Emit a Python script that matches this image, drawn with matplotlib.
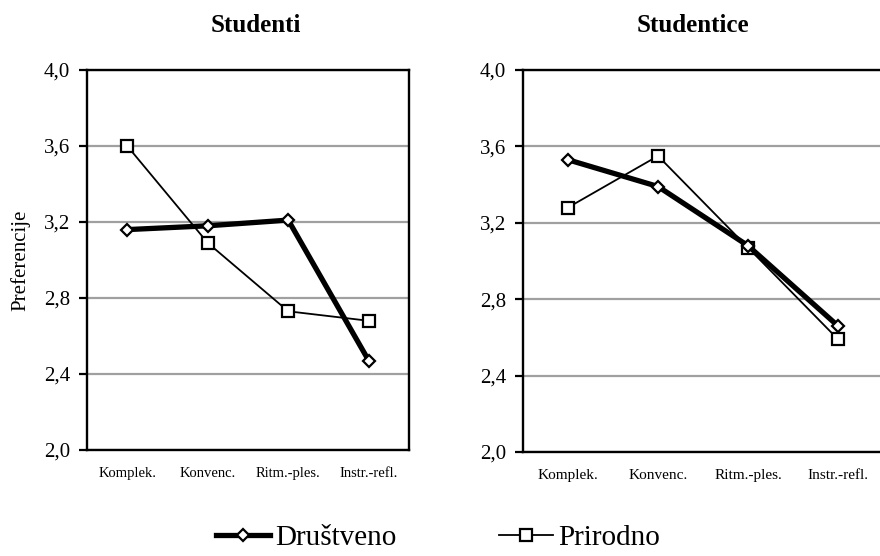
import matplotlib
matplotlib.use("Agg")
import matplotlib.pyplot as plt
from matplotlib.lines import Line2D

plt.rcParams["font.family"] = ["Liberation Serif", "DejaVu Serif"]

categories = ["Komplek.", "Konvenc.", "Ritm.-ples.", "Instr.-refl."]
series_names = ["Društveno", "Prirodno"]

studenti_drustveno = [3.16, 3.18, 3.21, 2.47]
studenti_prirodno = [3.60, 3.09, 2.73, 2.68]
studentice_drustveno = [3.53, 3.39, 3.08, 2.66]
studentice_prirodno = [3.28, 3.55, 3.07, 2.59]

y_ticks = [2.0, 2.4, 2.8, 3.2, 3.6, 4.0]
y_tick_labels = ["2,0", "2,4", "2,8", "3,2", "3,6", "4,0"]

W, H = 880, 556
fig = plt.figure(figsize=(W / 100, H / 100), dpi=100)


def box(x0, y0, x1, y1):
    # pixel box (top-left origin) -> figure fraction rect
    return [x0 / W, 1 - y1 / H, (x1 - x0) / W, (y1 - y0) / H]


style_d = dict(color="black", lw=3.8, marker="D", ms=6, mfc="white",
               mec="black", mew=1.6, zorder=4)
style_p = dict(color="black", lw=1.3, marker="s", ms=8, mfc="white",
               mec="black", mew=1.6, zorder=3)


def panel(rect, drus, prir, label_size):
    ax = fig.add_axes(rect)
    x = range(len(categories))
    ax.plot(x, drus, **style_d)
    ax.plot(x, prir, **style_p)
    ax.set_xlim(-0.5, len(categories) - 0.5)
    ax.set_ylim(2.0, 4.0)
    ax.set_yticks(y_ticks)
    ax.set_yticklabels(y_tick_labels, fontsize=15)
    ax.set_xticks(list(x))
    ax.set_xticklabels(categories, fontsize=label_size)
    ax.tick_params(axis="x", length=0, pad=12)
    ax.tick_params(axis="y", length=6, width=1.6, pad=6)
    ax.yaxis.grid(True, color="#a0a0a0", lw=1.6)
    ax.set_axisbelow(True)
    for s in ax.spines.values():
        s.set_linewidth(1.7)
    return ax


ax1 = panel(box(87, 70, 409, 450), studenti_drustveno, studenti_prirodno, 10.5)
ax1.set_ylabel("Preferencije", fontsize=15, labelpad=10)
ax2 = panel(box(523, 70, 883, 452), studentice_drustveno, studentice_prirodno, 11)

fig.text(256 / W, 1 - 32 / H, "Studenti", ha="center", va="baseline",
         fontsize=18, fontweight="bold")
fig.text(693 / W, 1 - 32 / H, "Studentice", ha="center", va="baseline",
         fontsize=18, fontweight="bold")

handles = [Line2D([], [], **style_d), Line2D([], [], **style_p)]
fig.legend(handles, series_names, loc="center", bbox_to_anchor=(438 / W, 1 - 538 / H),
           ncol=2, frameon=False, fontsize=21, handlelength=1.85,
           handletextpad=0.2, columnspacing=3.5, borderpad=0, borderaxespad=0)

fig.savefig("out.png", dpi=100)
